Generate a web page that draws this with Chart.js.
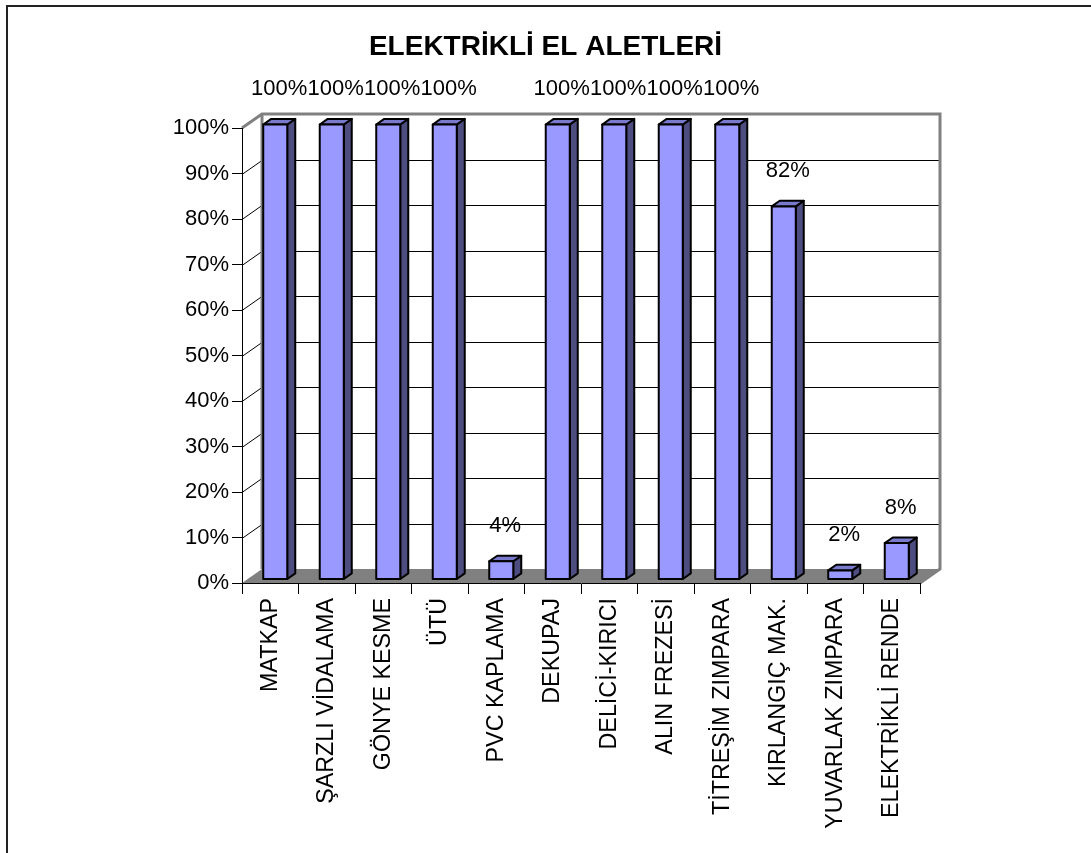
<!DOCTYPE html>
<html>
<head>
<meta charset="utf-8">
<title>ELEKTRİKLİ EL ALETLERİ</title>
<script src="https://cdn.jsdelivr.net/npm/chart.js@4/dist/chart.umd.min.js"></script>
<style>
  html, body { margin: 0; padding: 0; background: #fff; }
  canvas { display: block; }
</style>
</head>
<body>
<canvas id="chart" width="1091" height="853"></canvas>
<script>
// Tool categories and the share of each (percent)
const categories = [
  'MATKAP', 'ŞARZLI VİDALAMA', 'GÖNYE KESME', 'ÜTÜ', 'PVC KAPLAMA', 'DEKUPAJ',
  'DELİCİ-KIRICI', 'ALIN FREZESİ', 'TİTREŞİM ZIMPARA', 'KIRLANGIÇ MAK.',
  'YUVARLAK ZIMPARA', 'ELEKTRİKLİ RENDE'
];
const percentages = [100, 100, 100, 100, 4, 100, 100, 100, 100, 82, 2, 8];
const yTickValues = [0, 10, 20, 30, 40, 50, 60, 70, 80, 90, 100];
const chartTitle = 'ELEKTRİKLİ EL ALETLERİ';

const FONT = "'Liberation Sans', Arial, sans-serif";

// Pseudo-3D look: depth vector from the front plane to the back wall
const DEPTH = { x: 20, y: -14 };
const BAR_FRONT = 0.25;   // fraction of depth where the bar front face sits
const BAR_BACK = 0.65;    // fraction of depth where the bar back face sits

const frame3d = {
  id: 'frame3d',
  beforeDraw(chart) {
    const { ctx, chartArea: a, scales } = chart;
    const y = scales.y;
    ctx.save();

    // page frame lines
    ctx.strokeStyle = '#222';
    ctx.lineWidth = 2;
    ctx.beginPath();
    ctx.moveTo(7, chart.height);
    ctx.lineTo(7, 6);
    ctx.lineTo(chart.width, 6);
    ctx.stroke();

    // title, centred on the whole page
    ctx.fillStyle = '#000';
    ctx.font = 'bold 28px ' + FONT;
    ctx.textAlign = 'center';
    ctx.textBaseline = 'middle';
    ctx.fillText(chartTitle, chart.width / 2, 47);

    const y0 = y.getPixelForValue(0);
    const yTop = y.getPixelForValue(100);
    const L = a.left, R = a.right;
    const dx = DEPTH.x, dy = DEPTH.y;

    // floor
    ctx.fillStyle = '#808080';
    ctx.beginPath();
    ctx.moveTo(L, y0);
    ctx.lineTo(R, y0);
    ctx.lineTo(R + dx, y0 + dy);
    ctx.lineTo(L + dx, y0 + dy);
    ctx.closePath();
    ctx.fill();

    // gridlines across the side wall and the back wall
    ctx.strokeStyle = '#000';
    ctx.lineWidth = 1;
    yTickValues.forEach(v => {
      if (v === 0 || v === 100) return;
      const py = Math.round(y.getPixelForValue(v)) + 0.5;
      ctx.beginPath();
      ctx.moveTo(L, py);
      ctx.lineTo(L + dx, py + dy);
      ctx.lineTo(R + dx, py + dy);
      ctx.stroke();
    });

    // wall edges
    ctx.strokeStyle = '#808080';
    ctx.lineWidth = 3;
    ctx.lineJoin = 'miter';
    ctx.beginPath();
    ctx.moveTo(L, yTop);
    ctx.lineTo(L + dx, yTop + dy);
    ctx.lineTo(R + dx, yTop + dy);
    ctx.lineTo(R + dx, y0 + dy);
    ctx.lineTo(R, y0);
    ctx.stroke();
    ctx.beginPath();
    ctx.moveTo(L + dx, yTop + dy);
    ctx.lineTo(L + dx, y0 + dy);
    ctx.stroke();

    ctx.restore();
  },
  afterDatasetsDraw(chart) {
    const { ctx } = chart;
    const meta = chart.getDatasetMeta(0);
    const values = chart.data.datasets[0].data;
    const fx = BAR_FRONT * DEPTH.x, fy = BAR_FRONT * DEPTH.y;
    const ddx = (BAR_BACK - BAR_FRONT) * DEPTH.x;
    const ddy = (BAR_BACK - BAR_FRONT) * DEPTH.y;
    ctx.save();
    ctx.lineWidth = 2;
    ctx.lineJoin = 'round';
    ctx.strokeStyle = '#000';
    meta.data.forEach((el, i) => {
      const p = el.getProps(['x', 'y', 'base', 'width'], true);
      const x0 = p.x - p.width / 2 + fx;
      const x1 = p.x + p.width / 2 + fx;
      const yt = p.y + fy;
      const yb = p.base + fy;

      // side face
      ctx.fillStyle = '#4d4d80';
      ctx.beginPath();
      ctx.moveTo(x1, yt);
      ctx.lineTo(x1 + ddx, yt + ddy);
      ctx.lineTo(x1 + ddx, yb + ddy);
      ctx.lineTo(x1, yb);
      ctx.closePath();
      ctx.fill();
      ctx.stroke();

      // top face
      ctx.fillStyle = '#7a7acc';
      ctx.beginPath();
      ctx.moveTo(x0, yt);
      ctx.lineTo(x0 + ddx, yt + ddy);
      ctx.lineTo(x1 + ddx, yt + ddy);
      ctx.lineTo(x1, yt);
      ctx.closePath();
      ctx.fill();
      ctx.stroke();

      // front face
      ctx.fillStyle = '#9999ff';
      ctx.beginPath();
      ctx.rect(x0, yt, x1 - x0, yb - yt);
      ctx.fill();
      ctx.stroke();

      // value label
      ctx.fillStyle = '#000';
      ctx.font = '22px ' + FONT;
      ctx.textAlign = 'center';
      ctx.textBaseline = 'middle';
      ctx.fillText(values[i] + '%', (x0 + x1 + ddx) / 2, yt + ddy - 30);
    });
    ctx.restore();
  }
};

new Chart(document.getElementById('chart'), {
  type: 'bar',
  data: {
    labels: categories,
    datasets: [{
      data: percentages,
      backgroundColor: 'rgba(0,0,0,0)',
      borderWidth: 0,
      categoryPercentage: 1,
      barPercentage: 0.425
    }]
  },
  options: {
    responsive: false,
    animation: false,
    devicePixelRatio: 1,
    layout: { padding: { left: 0, right: 171, top: 128, bottom: 0 } },
    plugins: {
      legend: { display: false },
      tooltip: { enabled: false },
      title: { display: false }
    },
    scales: {
      x: {
        grid: {
          display: true,
          offset: true,
          drawOnChartArea: false,
          drawTicks: true,
          tickLength: 11,
          color: '#000'
        },
        border: { display: true, color: '#000', width: 1 },
        ticks: {
          autoSkip: false,
          maxRotation: 90,
          minRotation: 90,
          padding: 4,
          color: '#000',
          font: { family: FONT, size: 23.3 }
        },
        afterFit(scale) { scale.height = 270; }
      },
      y: {
        min: 0,
        max: 100,
        grid: {
          display: true,
          drawOnChartArea: false,
          drawTicks: true,
          tickLength: 10,
          color: '#000'
        },
        border: { display: true, color: '#000', width: 1 },
        ticks: {
          stepSize: 10,
          padding: 3,
          color: '#000',
          font: { family: FONT, size: 22 },
          callback: v => v + '%'
        },
        afterFit(scale) { scale.width = 242; }
      }
    }
  },
  plugins: [frame3d]
});
</script>
</body>
</html>
